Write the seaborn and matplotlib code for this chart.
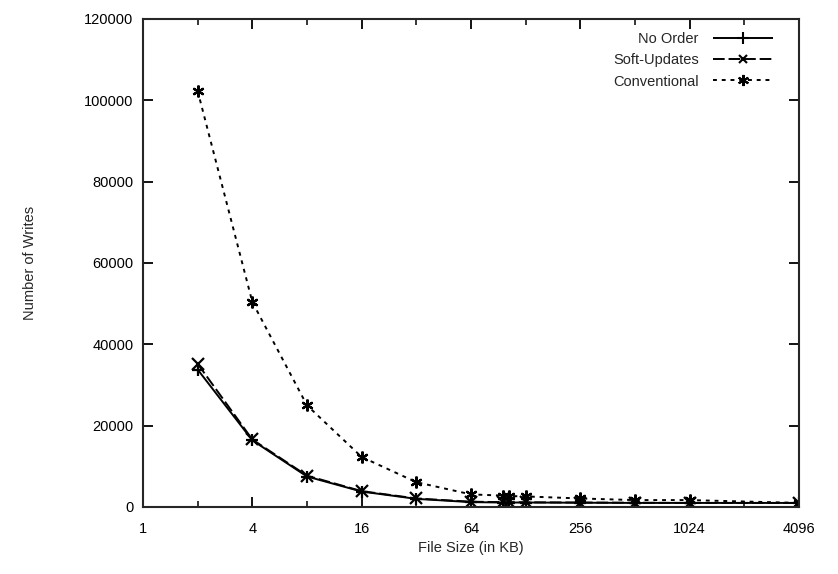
import matplotlib
matplotlib.use("Agg")
import matplotlib.pyplot as plt
import seaborn as sns
import pandas as pd
from matplotlib.ticker import FixedLocator, FixedFormatter, NullFormatter

file_sizes = [2, 4, 8, 16, 32, 64, 96, 104, 128, 256, 512, 1024, 4096]
no_order = [33800, 16400, 7500, 3800, 2000, 1200, 1100, 1100, 1100, 1050, 1000, 1000, 1000]
soft_updates = [35200, 16600, 7700, 3900, 2100, 1300, 1200, 1200, 1150, 1100, 1050, 1000, 1000]
conventional = [102300, 50400, 25000, 12300, 6100, 3100, 2800, 2700, 2600, 2100, 1700, 1700, 1000]
series_names = ["No Order", "Soft-Updates", "Conventional"]

x_ticks = [1, 4, 16, 64, 256, 1024, 4096]
x_minor = [2, 8, 32, 128, 512, 2048]
y_ticks = [0, 20000, 40000, 60000, 80000, 100000, 120000]

sns.set_style("ticks")
plt.rcParams['font.family'] = ['Liberation Sans', 'DejaVu Sans']

fig = plt.figure(figsize=(8.38, 5.74), dpi=100)
ax = fig.add_axes([143/838, 1-507/574, (799-143)/838, (507-19)/574])

rows = []
for name, vals in zip(series_names, [no_order, soft_updates, conventional]):
    for s, v in zip(file_sizes, vals):
        rows.append({"size": s, "writes": v, "series": name})
df = pd.DataFrame(rows)

sns.lineplot(data=df, x="size", y="writes", hue="series", style="series",
             hue_order=series_names, style_order=series_names,
             palette=["black"] * 3,
             markers={"No Order": "+", "Soft-Updates": "x", "Conventional": (6, 2, 0)},
             dashes={"No Order": (1, 0), "Soft-Updates": (6, 2), "Conventional": (2, 2.5)},
             lw=1.4, markersize=8.5, markeredgewidth=1.6, markeredgecolor="black",
             ax=ax)

ax.set_xscale("log", base=2)
ax.set_xlim(1, 4096)
ax.set_ylim(0, 120000)
ax.xaxis.set_major_locator(FixedLocator(x_ticks))
ax.xaxis.set_major_formatter(FixedFormatter([str(t) for t in x_ticks]))
ax.xaxis.set_minor_locator(FixedLocator(x_minor))
ax.xaxis.set_minor_formatter(NullFormatter())
ax.set_yticks(y_ticks)
ax.set_yticklabels([str(t) for t in y_ticks])

for sp in ax.spines.values():
    sp.set_linewidth(1.5)
    sp.set_visible(True)
ax.tick_params(which="major", direction="in", length=7, width=1.3,
               top=True, right=True, labelsize=10.5, pad=7, colors="black")
ax.tick_params(axis="x", which="major", pad=11)
ax.tick_params(which="minor", direction="in", length=4, width=1.3, top=True)
ax.tick_params(axis="y", which="minor", left=False, right=False)

ax.set_xlabel("File Size (in KB)", fontsize=10.5)
ax.set_ylabel("Number of Writes", fontsize=10.5)
ax.xaxis.set_label_coords(0.5, -(548 - 507) / 488, transform=ax.transAxes)
ax.yaxis.set_label_coords((30 - 143) / 656, 0.5, transform=ax.transAxes)
ax.xaxis.label.set_va("center")
ax.yaxis.label.set_va("center")

handles, labels = ax.get_legend_handles_labels()
for h, ms in zip(handles, [9, 6, 8]):
    h.set_markeredgecolor("black")
    h.set_markeredgewidth(1.5)
    h.set_markersize(ms)
ax.legend(handles, labels, loc="upper right", frameon=False, markerfirst=False,
          fontsize=10.5, handlelength=4.1, borderpad=0, borderaxespad=0,
          labelspacing=0.5, handletextpad=1.0,
          bbox_to_anchor=((773 - 143) / 656, 1 - (32 - 19) / 488))

fig.savefig("out.png", dpi=100)
